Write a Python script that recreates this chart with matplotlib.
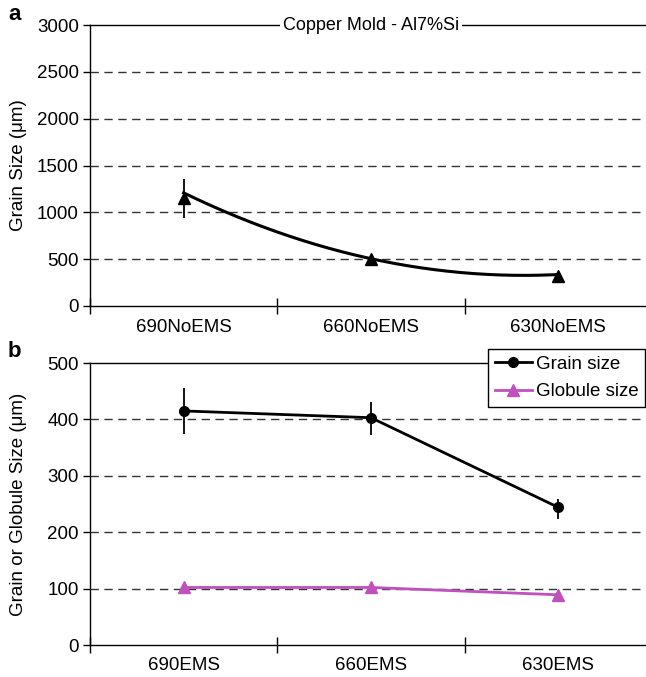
import numpy as np
import matplotlib
matplotlib.use("Agg")
import matplotlib.pyplot as plt
from matplotlib.ticker import FixedLocator, NullFormatter

plt.rcParams['font.family'] = ['Liberation Sans', 'DejaVu Sans']

# Panel a data
cats_a = ["690NoEMS", "660NoEMS", "630NoEMS"]
grain_a = [1150, 505, 315]
grain_a_err = [210, 15, 15]
trend_a = [1208, 505, 336]

# Panel b data
cats_b = ["690EMS", "660EMS", "630EMS"]
grain_b = [415, 403, 244]
grain_b_err_lo = [41, 31, 20]
grain_b_err_hi = [41, 27, 15]
glob_b = [102, 102, 89]

title_a = "Copper Mold - Al7%Si"
ylab_a = "Grain Size (μm)"
ylab_b = "Grain or Globule Size (μm)"
magenta = "#C050BC"

W, H = 646, 677
fig = plt.figure(figsize=(W / 100, H / 100), dpi=100)

def fx(px):
    return px / W

def fy(py):
    return 1 - py / H

ax_l = 90
ax_r = 652
ax_a = fig.add_axes([fx(ax_l), fy(306), fx(ax_r - ax_l), fy(25) - fy(306)])
ax_b = fig.add_axes([fx(ax_l), fy(645), fx(ax_r - ax_l), fy(363) - fy(645)])

FS = 13.5

def style(ax, cats, ymax, step):
    ax.set_xlim(0, 3)
    ax.set_ylim(0, ymax)
    xs = np.arange(len(cats)) + 0.5
    ax.xaxis.set_major_locator(FixedLocator(xs))
    ax.set_xticklabels(cats, fontsize=FS)
    ax.xaxis.set_minor_locator(FixedLocator([0, 1, 2, 3]))
    ax.xaxis.set_minor_formatter(NullFormatter())
    ax.tick_params(axis='x', which='major', length=0, pad=9)
    ax.tick_params(axis='x', which='minor', length=12, direction='inout', width=1)
    ticks = np.arange(0, ymax + 1, step)
    ax.set_yticks(ticks)
    ax.set_yticklabels([str(int(t)) for t in ticks], fontsize=FS)
    ax.tick_params(axis='y', length=5, width=1, direction='out', pad=3)
    for t in ticks[1:-1]:
        ax.axhline(t, color='#333333', lw=1.0, ls=(0, (6, 4)), zorder=1)
    for s in ['left', 'bottom', 'top']:
        ax.spines[s].set_linewidth(1.0)
        ax.spines[s].set_color('black')
    ax.spines['right'].set_visible(False)
    ax.patch.set_alpha(0)
    return xs

label_x = fx(27 - ax_l) / fx(ax_r - ax_l)

xs_a = style(ax_a, cats_a, 3000, 500)
coef = np.polyfit(xs_a, trend_a, 2)
xx = np.linspace(xs_a[0], xs_a[-1], 200)
ax_a.plot(xx, np.polyval(coef, xx), color='black', lw=2.2, zorder=3)
ax_a.errorbar(xs_a, grain_a, yerr=grain_a_err, fmt='^', color='black', ms=8,
              ecolor='black', elinewidth=1.3, capsize=0, zorder=4)
ax_a.text(1.5, 3000, title_a, ha='center', va='center', fontsize=13,
          bbox=dict(facecolor='white', edgecolor='none', pad=2), zorder=5)
ax_a.set_ylabel(ylab_a, fontsize=FS)
ax_a.yaxis.set_label_coords(label_x, 0.5)

xs_b = style(ax_b, cats_b, 500, 100)
ax_b.errorbar(xs_b, grain_b, yerr=[grain_b_err_lo, grain_b_err_hi], fmt='none',
              ecolor='black', elinewidth=1.3, capsize=0, zorder=4)
ax_b.plot(xs_b, grain_b, '-o', color='black', lw=2, ms=7, zorder=4,
          label='Grain size')
ax_b.plot(xs_b, glob_b, '-^', color=magenta, lw=2, ms=8, zorder=4,
          label='Globule size')
ax_b.set_ylabel(ylab_b, fontsize=FS)
ax_b.yaxis.set_label_coords(label_x, 0.5)
leg = ax_b.legend(loc='upper left', bbox_to_anchor=(fx(488), fy(349)),
                  bbox_transform=fig.transFigure, fontsize=FS, frameon=True,
                  fancybox=False, framealpha=1, edgecolor='black',
                  handlelength=2.0, handletextpad=0.2, borderpad=0.35,
                  labelspacing=0.55, borderaxespad=0)
leg.get_frame().set_linewidth(1.0)
leg.set_zorder(6)

fig.text(fx(8), fy(14), 'a', fontsize=16, fontweight='bold', va='center', ha='left')
fig.text(fx(8), fy(352), 'b', fontsize=16, fontweight='bold', va='center', ha='left')

fig.savefig('out.png', dpi=100)
